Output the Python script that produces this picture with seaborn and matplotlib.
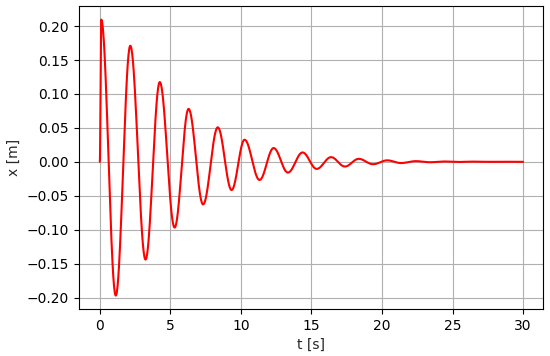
import numpy as np
import pandas as pd
import matplotlib
matplotlib.use("Agg")
import matplotlib.pyplot as plt
import seaborn as sns

# Extrema of the displacement (time in s, displacement in m)
ext_t = [0.0, 0.1, 1.13, 2.16, 3.24, 4.25, 5.30, 6.29, 7.32, 8.36, 9.34, 10.26, 11.32,
         12.32, 13.33, 14.37, 15.37, 16.39, 17.37, 18.35, 19.37, 20.37, 21.34, 22.40,
         23.40, 24.40, 25.40, 26.45, 27.45, 28.50, 29.50, 30.0]
ext_x = [0.0, 0.2095, -0.197, 0.171, -0.144, 0.1175, -0.0968, 0.078, -0.0627, 0.0508,
         -0.0415, 0.0326, -0.0267, 0.0203, -0.0158, 0.0138, -0.0104, 0.0069, -0.0069,
         0.0044, -0.0035, 0.0022, -0.0018, 0.0010, -0.0006, 0.0005, -0.0002, 0.0003,
         0.0, 0.0002, 0.0, 0.0]

yticks = [-0.20, -0.15, -0.10, -0.05, 0.00, 0.05, 0.10, 0.15, 0.20]
xticks = [0, 5, 10, 15, 20, 25, 30]

# smooth half-cosine joins between consecutive extrema
ts, xs = [], []
for i in range(len(ext_t) - 1):
    s = np.linspace(0, 1, 40, endpoint=False)
    ts.extend(ext_t[i] + (ext_t[i + 1] - ext_t[i]) * s)
    xs.extend(ext_x[i] + (ext_x[i + 1] - ext_x[i]) * (1 - np.cos(np.pi * s)) / 2)
ts.append(ext_t[-1]); xs.append(ext_x[-1])
df = pd.DataFrame({"t": ts, "x": xs})

sns.set_style("white")
plt.rcParams["font.family"] = ["DejaVu Sans"]
fig = plt.figure(figsize=(5.5, 3.56), dpi=100)
ax = fig.add_axes([0.143, 0.132, 0.844, 0.852])
sns.lineplot(data=df, x="t", y="x", color="red", linewidth=1.5, ax=ax, sort=False)
ax.set_xticks(xticks)
ax.set_yticks(yticks)
ax.set_yticklabels([f"{v:.2f}".replace("-", "\u2212") for v in yticks])
ax.grid(True, color="#b0b0b0", linewidth=0.8)
ax.set_axisbelow(True)
for sp in ax.spines.values():
    sp.set_color("black")
    sp.set_linewidth(0.8)
ax.tick_params(axis="both", which="both", direction="out", length=3.5, width=0.8,
               colors="black", labelsize=10, bottom=True, left=True)
ax.set_xlabel("t [s]", fontsize=10)
ax.set_ylabel("x [m]", fontsize=10)
ax.set_xlim(-1.5, 31.4)
ax.set_ylim(-0.2168, 0.2300)
fig.savefig("out.png", dpi=100)
